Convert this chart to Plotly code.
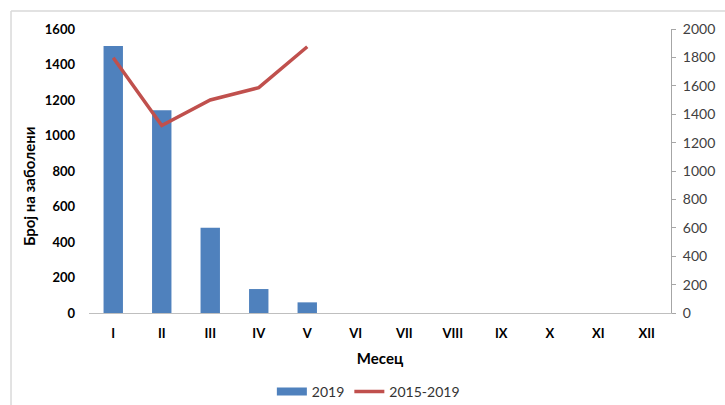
import plotly.graph_objects as go

months = ["I", "II", "III", "IV", "V", "VI", "VII", "VIII", "IX", "X", "XI", "XII"]
cases_2019 = [1504, 1142, 480, 135, 60]
avg_2015_2019 = [1797, 1320, 1500, 1587, 1875]

FONT = "Lato"
BAR_COLOR = "#4F81BD"

fig = go.Figure()
fig.add_trace(go.Bar(
    x=months[:len(cases_2019)], y=cases_2019, name="2019",
    marker=dict(color=BAR_COLOR, line=dict(width=0)),
    yaxis="y", showlegend=False,
))
# legend entry for the bars, drawn as a wide rectangle like the original
fig.add_trace(go.Scatter(
    x=[None], y=[None], name="2019", mode="lines",
    line=dict(color=BAR_COLOR, width=8), yaxis="y",
))
fig.add_trace(go.Scatter(
    x=months[:len(avg_2015_2019)], y=avg_2015_2019, name="2015-2019",
    mode="lines", line=dict(color="#C0504D", width=3.5),
    yaxis="y2",
))

fig.update_layout(
    width=725, height=405,
    margin=dict(l=89, r=54, t=29, b=92, autoexpand=False),
    paper_bgcolor="white", plot_bgcolor="white",
    font=dict(family=FONT, size=13, color="#000000"),
    bargap=0.6,
    showlegend=True,
    legend=dict(orientation="h", x=0.48, xanchor="center", y=-0.278, yanchor="middle",
                font=dict(family=FONT, size=14, color="#333333"),
                itemwidth=30, tracegroupgap=0),
    xaxis=dict(
        type="category", categoryorder="array", categoryarray=months,
        range=[-0.5, 11.5], automargin=False,
        showline=True, linecolor="#BFBFBF", linewidth=1,
        ticks="", showgrid=False, zeroline=False,
        tickfont=dict(family=FONT, size=13, color="#000000", weight="bold"),
        ticklabelstandoff=8,
        title=dict(text="<b>Месец</b>", font=dict(family=FONT, size=15), standoff=13),
    ),
    yaxis=dict(
        range=[0, 1600], tickvals=[0, 200, 400, 600, 800, 1000, 1200, 1400, 1600],
        automargin=False,
        showgrid=False, zeroline=False, showline=False, ticks="",
        tickfont=dict(family=FONT, size=13, color="#000000", weight="bold"),
        ticklabelstandoff=13,
    ),
    yaxis2=dict(
        overlaying="y", side="right", automargin=False,
        range=[0, 2000], tickvals=[0, 200, 400, 600, 800, 1000, 1200, 1400, 1600, 1800, 2000],
        showgrid=False, zeroline=False, showline=True, linecolor="#A6A6A6", linewidth=1,
        ticks="outside", ticklen=4, tickcolor="#A6A6A6",
        tickfont=dict(family=FONT, size=14, color="#404040"),
        ticklabelstandoff=4,
    ),
    annotations=[dict(text="<b>Број на заболени</b>", textangle=-90,
                      xref="paper", yref="paper", x=-0.103, y=0.447,
                      xanchor="center", yanchor="middle", showarrow=False,
                      font=dict(family=FONT, size=15, color="#000000"))],
    shapes=[
        dict(type="line", xref="paper", yref="paper",
             x0=-0.134, x1=-0.134, y0=-0.33, y1=1.063,
             line=dict(color="#D9D9D9", width=1.5)),
        dict(type="line", xref="paper", yref="paper",
             x0=-0.134, x1=1.11, y0=1.063, y1=1.063,
             line=dict(color="#D9D9D9", width=1.5)),
    ],
)

fig.write_html("out.html", config={"displayModeBar": False},
               post_script="document.body.style.margin='0';")
